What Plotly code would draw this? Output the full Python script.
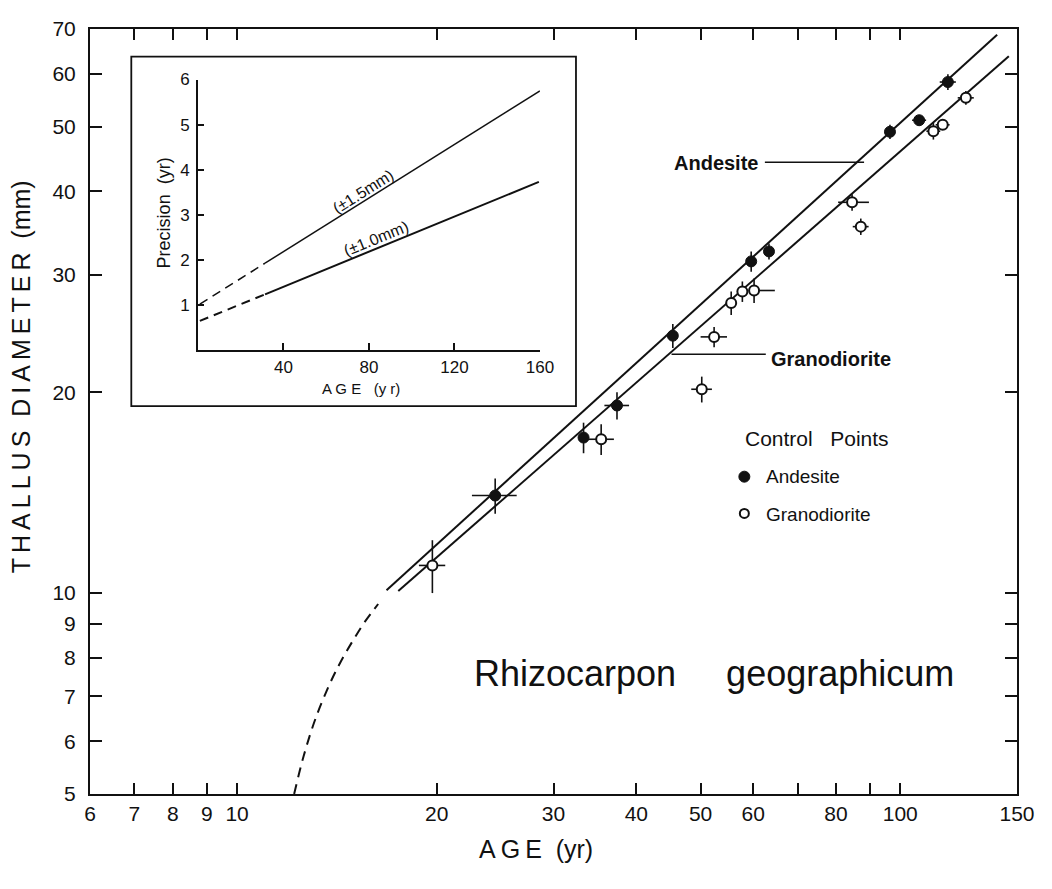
import plotly.graph_objects as go

# ---------------- data ----------------
# Control points (Andesite, filled)
and_age = [24.5, 33.3, 37.4, 45.4, 59.6, 63.4, 96.5, 106.8, 118.0]
and_diam = [14.0, 17.1, 19.1, 24.3, 31.4, 32.5, 49.1, 51.1, 58.3]
and_age_err = [1.9, 0.0, 1.6, 0.0, 0.0, 0.0, 0.0, 2.6, 3.3]
and_diam_err = [0.85, 0.9, 0.9, 1.0, 1.1, 0.9, 1.2, 0.9, 1.6]

# Control points (Granodiorite, open)
gra_age = [19.7, 35.4, 50.2, 52.4, 55.6, 57.8, 60.2, 84.6, 87.2, 112.2, 115.9, 125.6]
gra_diam = [11.0, 17.0, 20.2, 24.2, 27.2, 28.3, 28.4, 38.5, 35.4, 49.2, 50.3, 55.2]
gra_age_err_plus = [0.9, 1.6, 1.8, 2.4, 0.0, 1.0, 4.5, 5.1, 2.4, 2.7, 2.8, 3.5]
gra_age_err_minus = [0.9, 1.6, 1.8, 2.4, 0.0, 1.0, 1.0, 4.0, 2.4, 2.7, 2.8, 3.5]
gra_diam_err = [1.0, 0.9, 0.9, 0.85, 1.1, 1.0, 1.2, 1.1, 1.0, 1.4, 0.85, 1.3]

# Growth curves
and_line_age = [16.8, 140.0]
and_line_diam = [10.1, 68.6]
gra_line_age = [17.5, 145.8]
gra_line_diam = [10.07, 63.7]
great_age = [12.19, 12.60, 13.14, 13.88, 14.35, 14.91, 15.55, 16.32]
great_diam = [5.0, 5.70, 6.50, 7.41, 7.91, 8.45, 9.03, 9.63]

# Label leader lines
and_leader_age = [62.5, 88.2]
and_leader_diam = [44.2, 44.2]
gra_leader_age = [45.2, 62.7]
gra_leader_diam = [22.8, 22.8]

# Axis ticks
x_tickvals = [6, 7, 8, 9, 10, 20, 30, 40, 50, 60, 70, 80, 90, 100, 150]
x_ticktext = ["6", "7", "8", "9", "10", "20", "30", "40", "50", "60", "", "80", "", "100", "150"]
y_tickvals = [5, 6, 7, 8, 9, 10, 20, 30, 40, 50, 60, 70]
y_ticktext = ["5", "6", "7", "8", "9", "10", "20", "30", "40", "50", "60", "70"]

# Inset: precision vs age
prec15_dash_age = [0.9, 31.4]
prec15_dash_val = [1.02, 1.93]
prec15_age = [31.4, 160.0]
prec15_val = [1.93, 5.75]
prec10_dash_age = [0.9, 31.4]
prec10_dash_val = [0.65, 1.24]
prec10_age = [31.4, 159.5]
prec10_val = [1.24, 3.73]
inset_xticks = [40, 80, 120, 160]
inset_yticks = [1, 2, 3, 4, 5, 6]

# ---------------- layout helpers ----------------
OFF = 8                      # page body margin of the browser
W, H = 1052 - 2 * OFF, 889 - 2 * OFF
L, R, T, B = 90, 1026, 17, 794   # plot area in screen pixels


def px(x):
    return (x - L) / (R - L)


def py(y):
    return (B - y) / (B - T)


FONT = "Liberation Sans, Arial, sans-serif"
BLACK = "#111111"

fig = go.Figure()

# growth curves
fig.add_trace(go.Scatter(x=and_line_age, y=and_line_diam, mode="lines",
                         line=dict(color=BLACK, width=2), showlegend=False, hoverinfo="skip"))
fig.add_trace(go.Scatter(x=gra_line_age, y=gra_line_diam, mode="lines",
                         line=dict(color=BLACK, width=2), showlegend=False, hoverinfo="skip"))
fig.add_trace(go.Scatter(x=great_age, y=great_diam, mode="lines",
                         line=dict(color=BLACK, width=2, dash="10px,7px", shape="spline"),
                         showlegend=False, hoverinfo="skip"))
fig.add_trace(go.Scatter(x=and_leader_age, y=and_leader_diam, mode="lines",
                         line=dict(color=BLACK, width=1.5), showlegend=False, hoverinfo="skip"))
fig.add_trace(go.Scatter(x=gra_leader_age, y=gra_leader_diam, mode="lines",
                         line=dict(color=BLACK, width=1.5), showlegend=False, hoverinfo="skip"))

# control points
fig.add_trace(go.Scatter(
    x=gra_age, y=gra_diam, mode="markers", name="Granodiorite",
    marker=dict(symbol="circle", size=10, color="white", line=dict(color=BLACK, width=2)),
    error_x=dict(type="data", array=gra_age_err_plus, arrayminus=gra_age_err_minus,
                 symmetric=False, color=BLACK, thickness=1.6, width=0),
    error_y=dict(type="data", array=gra_diam_err, color=BLACK, thickness=1.6, width=0),
    showlegend=False))
fig.add_trace(go.Scatter(
    x=and_age, y=and_diam, mode="markers", name="Andesite",
    marker=dict(symbol="circle", size=11, color=BLACK, line=dict(color=BLACK, width=1)),
    error_x=dict(type="data", array=and_age_err, color=BLACK, thickness=1.6, width=0),
    error_y=dict(type="data", array=and_diam_err, color=BLACK, thickness=1.6, width=0),
    showlegend=False))

# inset traces
for xs, ys, dash, wdt in [
    (prec15_dash_age, prec15_dash_val, "9px,6px", 1.5),
    (prec15_age, prec15_val, "solid", 1.5),
    (prec10_dash_age, prec10_dash_val, "9px,6px", 2),
    (prec10_age, prec10_val, "solid", 2),
]:
    fig.add_trace(go.Scatter(x=xs, y=ys, mode="lines", xaxis="x2", yaxis="y2",
                             line=dict(color=BLACK, width=wdt, dash=dash),
                             showlegend=False, hoverinfo="skip"))

axis_common = dict(showgrid=False, zeroline=False, showline=True, linecolor=BLACK,
                   linewidth=2, ticks="inside", tickcolor=BLACK, tickwidth=2,
                   mirror="ticks")

fig.update_layout(
    width=W, height=H,
    margin=dict(l=L - OFF, r=W - (R - OFF), t=T - OFF, b=H - (B - OFF)),
    paper_bgcolor="white", plot_bgcolor="white",
    font=dict(family=FONT, color=BLACK),
    showlegend=False,
    xaxis=dict(type="log", range=[0.778151, 2.176091], tickvals=x_tickvals,
               ticktext=x_ticktext, ticklen=11, tickfont=dict(size=21),
               **axis_common),
    yaxis=dict(type="log", range=[0.69897, 1.845098], tickvals=y_tickvals,
               ticktext=y_ticktext, ticklen=12, tickfont=dict(size=21),
               ticklabelstandoff=8, **axis_common),
    xaxis2=dict(domain=[px(199), px(544.3)], range=[0, 160], anchor="y2",
                tickvals=inset_xticks, ticks="inside", ticklen=7, tickwidth=1.5,
                tickcolor=BLACK, showline=True, linecolor=BLACK, linewidth=1.8,
                showgrid=False, zeroline=False, tickfont=dict(size=17)),
    yaxis2=dict(domain=[py(343.3), py(68.3)], range=[0, 6], anchor="x2",
                tickvals=inset_yticks, ticks="inside", ticklen=6, tickwidth=1.5,
                tickcolor=BLACK, showline=True, linecolor=BLACK, linewidth=1.8,
                showgrid=False, zeroline=False, tickfont=dict(size=17),
                ticklabelstandoff=3),
)

shapes = [
    dict(type="rect", xref="paper", yref="paper", x0=px(131.7), x1=px(580.7),
         y0=py(400), y1=py(45), line=dict(color=BLACK, width=1.8),
         fillcolor="rgba(0,0,0,0)", layer="above"),
    dict(type="circle", xref="paper", yref="paper", xsizemode="pixel", ysizemode="pixel",
         xanchor=px(750.7), yanchor=py(471.7), x0=-5.5, x1=5.5, y0=-5.5, y1=5.5,
         fillcolor=BLACK, line=dict(color=BLACK, width=1)),
    dict(type="circle", xref="paper", yref="paper", xsizemode="pixel", ysizemode="pixel",
         xanchor=px(750.7), yanchor=py(509), x0=-4.5, x1=4.5, y0=-4.5, y1=4.5,
         fillcolor="white", line=dict(color=BLACK, width=2)),
]
fig.update_layout(shapes=shapes)

NB = "\u00a0"
TS = "\u2009"


def spaced(word):
    return TS.join(list(word))


def ann(text, x, y, size, xanchor="center", angle=0, yanchor="middle"):
    return dict(text=text, x=px(x), y=py(y), xref="paper", yref="paper",
                xanchor=xanchor, yanchor=yanchor, showarrow=False, textangle=angle,
                font=dict(size=size, family=FONT, color=BLACK))


annotations = [
    ann("<b>Andesite</b>", 767, 153, 20, xanchor="right"),
    ann("<b>Granodiorite</b>", 776, 352, 20, xanchor="left"),
    ann("Control" + NB * 3 + "Points", 749, 433, 21, xanchor="left"),
    ann("Andesite", 771, 472, 19, xanchor="left"),
    ann("Granodiorite", 771, 510, 19, xanchor="left"),
    ann("Rhizocarpon" + NB * 5 + "geographicum", 720, 672, 36),
    ann(spaced("THALLUS") + NB * 2 + spaced("DIAMETER") + NB * 2 + "(mm)", 20, 370, 25, angle=-90),
    ann(spaced("AGE") + NB * 2 + "(yr)", 540, 850, 25),
    ann("Precision" + NB * 2 + "(yr)", 165, 204, 18, angle=-90),
    ann("A G E" + NB * 3 + "(y r)", 364, 382, 15),
    ann("(±1.5mm)", 366, 182, 16, angle=-32),
    ann("(±1.0mm)", 379, 230, 16, angle=-22),
]
fig.update_layout(annotations=annotations)

fig.write_html("out.html")
